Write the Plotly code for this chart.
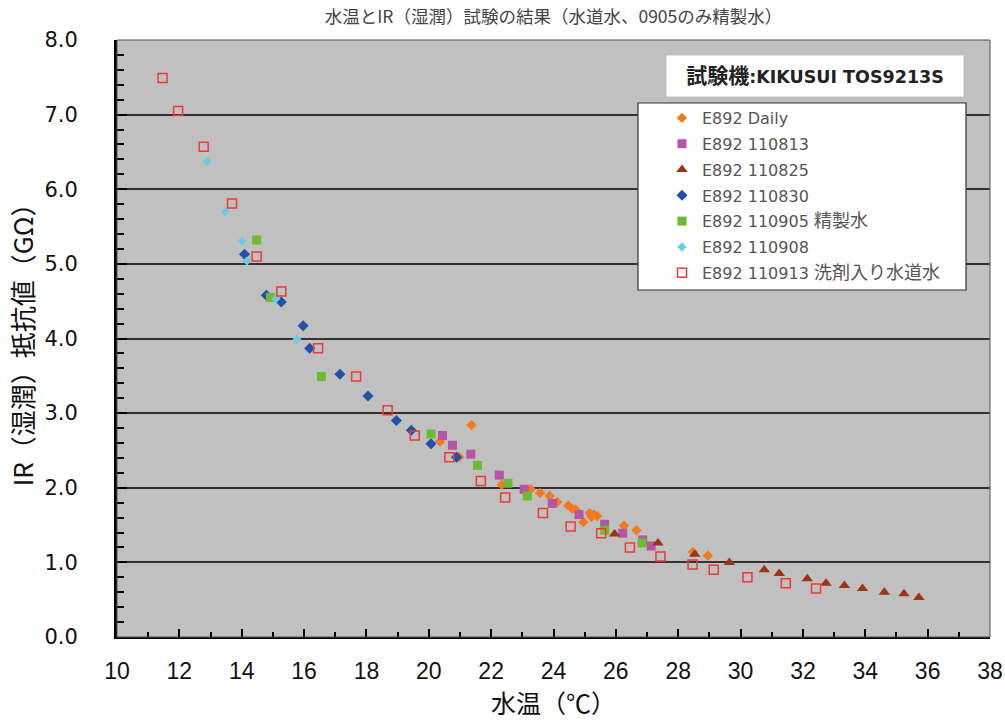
import plotly.graph_objects as go

# ---- data (water temperature °C, IR GΩ) ----
daily_x = [20.36, 20.98, 21.37, 22.34, 23.27, 23.57, 23.88, 24.12, 24.47, 24.60, 24.71, 24.96, 25.16, 25.22, 25.30, 25.40, 26.26, 26.66, 28.47, 28.95]
daily_y = [2.62, 2.41, 2.84, 2.04, 1.98, 1.93, 1.89, 1.81, 1.76, 1.72, 1.71, 1.54, 1.66, 1.61, 1.64, 1.62, 1.49, 1.43, 1.14, 1.09]

s0813_x = [20.44, 20.76, 21.35, 22.26, 23.06, 23.96, 24.82, 25.64, 26.22, 26.86, 27.13]
s0813_y = [2.70, 2.57, 2.45, 2.17, 1.98, 1.79, 1.64, 1.51, 1.39, 1.30, 1.22]

s0825_x = [25.96, 27.35, 28.53, 29.64, 30.76, 31.24, 32.14, 32.74, 33.33, 33.91, 34.61, 35.24, 35.72]
s0825_y = [1.38, 1.26, 1.11, 1.00, 0.90, 0.85, 0.78, 0.72, 0.69, 0.65, 0.60, 0.58, 0.53]

s0830_x = [14.09, 14.79, 15.27, 15.97, 16.18, 17.15, 18.05, 18.96, 19.44, 20.07, 20.89]
s0830_y = [5.13, 4.58, 4.49, 4.17, 3.87, 3.52, 3.23, 2.90, 2.77, 2.59, 2.41]

s0905_x = [14.48, 14.92, 16.56, 20.07, 21.56, 22.54, 23.16, 25.64, 26.84]
s0905_y = [5.32, 4.55, 3.49, 2.72, 2.30, 2.06, 1.89, 1.43, 1.26]

s0908_x = [12.89, 13.47, 14.01, 14.17, 15.09, 15.77]
s0908_y = [6.37, 5.70, 5.31, 5.04, 4.53, 3.99]

s0913_x = [11.46, 11.96, 12.78, 13.69, 14.48, 15.27, 16.45, 17.67, 18.68, 19.55, 20.66, 21.67, 22.45, 23.66, 24.55, 25.53, 26.45, 27.43, 28.46, 29.14, 30.22, 31.45, 32.42]
s0913_y = [7.49, 7.05, 6.57, 5.81, 5.10, 4.63, 3.87, 3.49, 3.04, 2.70, 2.41, 2.09, 1.87, 1.66, 1.48, 1.39, 1.20, 1.08, 0.97, 0.90, 0.80, 0.72, 0.65]

series_names = ["E892 Daily", "E892 110813", "E892 110825", "E892 110830",
                "E892 110905 精製水", "E892 110908", "E892 110913 洗剤入り水道水"]

x_ticks = list(range(10, 39, 2))
y_ticks = [0, 1, 2, 3, 4, 5, 6, 7, 8]

JP = "Noto Sans CJK JP"

# plot area in pixels
L, R, T, B = 117, 990, 40, 637
PW, PH = R - L, B - T


def px(x):
    return (x - L) / PW


def py(y):
    return (B - y) / PH


def cjk_bigger(s, size):
    # render the Japanese part a little larger than the Latin part, as in the source
    out = []
    for w in s.split(" "):
        if any(ord(c) > 0x2E80 for c in w):
            out.append(f'<span style="font-size:{size}px">{w}</span>')
        else:
            out.append(w)
    return " ".join(out)


styles = [
    dict(symbol="diamond", size=8, color="#F27A1E", line=dict(width=0)),
    dict(symbol="square", size=9, color="#B455A6", line=dict(width=0)),
    dict(symbol="triangle-up", size=10, color="#9C3418", line=dict(width=0)),
    dict(symbol="diamond", size=8.5, color="#2150A8", line=dict(width=0)),
    dict(symbol="square", size=9, color="#6DBB34", line=dict(width=0)),
    dict(symbol="diamond", size=7, color="#6CCBE3", line=dict(width=0)),
    dict(symbol="square-open", size=9, color="#EE3A36", line=dict(width=1.5)),
]
data = [(daily_x, daily_y), (s0813_x, s0813_y), (s0825_x, s0825_y), (s0830_x, s0830_y),
        (s0905_x, s0905_y), (s0908_x, s0908_y), (s0913_x, s0913_y)]

fig = go.Figure()
for i, ((xs, ys), name, st) in enumerate(zip(data, series_names, styles)):
    fig.add_trace(go.Scatter(
        x=xs, y=ys, mode="markers", name=cjk_bigger(name, 18), legendgroup=f"g{i}",
        marker=st,
    ))

fig.update_layout(
    width=1005, height=724,
    margin=dict(l=L, r=1005 - R, t=T, b=724 - B),
    paper_bgcolor="white",
    plot_bgcolor="#C0C0C0",
    font=dict(family=JP, color="#222"),
    title=dict(
        text="水温とIR（湿潤）試験の結果（水道水、0905のみ精製水）",
        x=0.5, xref="paper", y=1 - 17 / 724, yref="container",
        xanchor="center", yanchor="middle",
        font=dict(family=JP, size=17.5, color="#444"),
    ),
    showlegend=True,
    legend=dict(
        x=px(662), y=py(101), xanchor="left", yanchor="top",
        bgcolor="rgba(0,0,0,0)", borderwidth=0,
        font=dict(family="DejaVu Sans, " + JP, size=16, color="#555"),
        tracegroupgap=2,
    ),
    xaxis=dict(
        range=[10, 38], tickvals=x_ticks, ticktext=[str(v) for v in x_ticks],
        ticks="inside", ticklen=8, tickwidth=2, tickcolor="black",
        minor=dict(dtick=1, ticks="inside", ticklen=5, tickwidth=1.5, tickcolor="black"),
        showgrid=False, zeroline=False, automargin=False,
        showline=True, linecolor="black", linewidth=2,
        tickfont=dict(family="Liberation Sans Narrow, Arial Narrow, Liberation Sans", size=23, color="#111"),
        ticklabelstandoff=12,
        title=dict(text="水温（℃）", font=dict(family=JP, size=25, color="#111"), standoff=4),
    ),
    yaxis=dict(
        range=[0, 8], tickvals=y_ticks, ticktext=[f"{v:.1f}" for v in y_ticks],
        ticks="inside", ticklen=10, tickwidth=2, tickcolor="black",
        minor=dict(dtick=0.2, ticks="inside", ticklen=7, tickwidth=1.5, tickcolor="black"),
        showgrid=True, gridcolor="#333333", gridwidth=1.6,
        zeroline=False, automargin=False,
        showline=True, linecolor="black", linewidth=3,
        tickfont=dict(family="DejaVu Sans, Liberation Sans", size=21, color="#111"),
        ticklabelstandoff=32,
        title=dict(text="IR（湿潤）抵抗値（GΩ）", font=dict(family=JP, size=26, color="#111"), standoff=4),
    ),
    shapes=[
        dict(type="rect", xref="paper", yref="paper", x0=0, x1=1, y0=0, y1=1,
             line=dict(color="#555", width=1), fillcolor="rgba(0,0,0,0)", layer="above"),
        dict(type="rect", xref="paper", yref="paper",
             x0=px(638), x1=px(966), y0=py(290), y1=py(103),
             line=dict(color="#333", width=1.2), fillcolor="white", layer="above"),
    ],
    annotations=[
        dict(text='<b><span style="font-size:21px">試験機</span>:KIKUSUI TOS9213S</b>',
             xref="paper", yref="paper",
             x=px(815), y=py(76), xanchor="center", yanchor="middle",
             showarrow=False, bgcolor="white", width=294, height=38,
             font=dict(family="DejaVu Sans, " + JP, size=17.5, color="#222")),
    ],
)

fig.write_html("out.html")
